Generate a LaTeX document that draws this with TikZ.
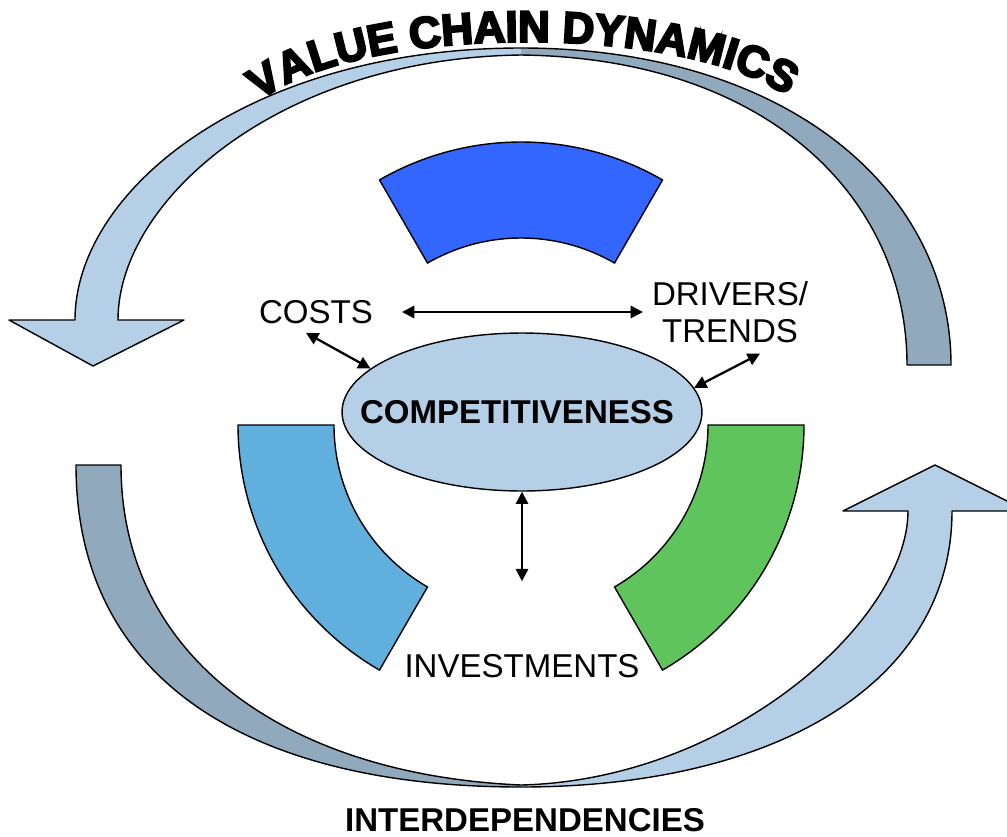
\documentclass[tikz,border=0pt]{standalone}
\usepackage{fontspec}
\setmainfont{Liberation Sans}
\newfontfamily\heavyfont[FakeBold=5]{Liberation Sans}
\usepackage{tikz}
\usetikzlibrary{arrows.meta}
\usetikzlibrary{shapes.geometric}
\usetikzlibrary{decorations.text}
\definecolor{paleblue}{HTML}{B4CFE6}
\definecolor{slateblue}{HTML}{91A9BD}
\definecolor{royal}{HTML}{3366FF}
\definecolor{skyblue}{HTML}{60AFDD}
\definecolor{leafgreen}{HTML}{60C45C}
\tikzset{%
    ribbon/.style={draw=black,line width=0.8pt,line join=round},
    sector/.style={draw=black,line width=0.8pt},
    lbl/.style={font=\fontsize{18.8}{21}\selectfont,inner sep=1pt,align=center},
    boldlbl/.style={lbl,font=\fontsize{18.8}{21}\selectfont\bfseries},
    link/.style={line width=1.3pt,{Triangle[length=7pt,width=7pt]}-{Triangle[length=7pt,width=7pt]}},
    hub/.style={ellipse,draw=black,line width=0.8pt,fill=paleblue,inner sep=0pt,
        minimum width=7.2cm,minimum height=3.16cm}
}
\newcommand\ringpart[3]{%
    \draw[sector,fill=#3] (521,425) ++(#1:283) arc[start angle=#1,end angle=#2,radius=283]
        -- ++(#2+180:96) arc[start angle=#2,end angle=#1,radius=187] -- cycle;}

\begin{document}
\begin{tikzpicture}[x=0.02cm,y=-0.02cm]
    \clip (0,0) rectangle (1007,836);

    \draw[ribbon,fill=paleblue] (521,48) .. controls (250,48) and (75,190) .. (75,320)
        -- (9,320) -- (93,366) -- (184,320) -- (118,320)
        .. controls (118,200) and (280,58) .. (521,55);
    \draw[ribbon,fill=slateblue] (521,48) .. controls (788,48) and (951,191) .. (951,365)
        -- (907,365) .. controls (907,200) and (770,58) .. (521,55);
    \draw[ribbon,fill=slateblue] (521,787) .. controls (250,787) and (76,680) .. (76,465)
        -- (121,465) .. controls (121,660) and (290,775) .. (521,785);
    \draw[ribbon,fill=paleblue] (521,787) .. controls (780,787) and (952,680) .. (952,511)
        -- (1027,511) -- (935,465) -- (843,511) -- (908,511)
        .. controls (908,620) and (730,780) .. (521,785);

    \path[decorate,decoration={text along path,text align=center,
        text={|\heavyfont\bfseries\fontsize{25}{25}\selectfont|VALUE CHAIN DYNAMICS}}]
        (244,116) .. controls (324,18) and (716,18) .. (804,110);

    \ringpart{-120}{-60}{royal}
    \ringpart{120}{180}{skyblue}
    \ringpart{0}{60}{leafgreen}

    \node[hub,label={[boldlbl,xshift=-0.1cm]center:COMPETITIVENESS}] (comp) at (522,412) {};
    \node[lbl] (costs) at (316,312) {COSTS};
    \node[lbl] (drivers) at (730,312) {DRIVERS/\\TRENDS};
    \node[lbl] (invest) at (522,666) {INVESTMENTS};
    \node[boldlbl] (interdep) at (525,820) {INTERDEPENDENCIES};

    \draw[link] ([xshift=0.54cm]costs.east) -- ([xshift=-0.14cm]drivers.west);
    \draw[link] ([shift={(-0.2cm,-0.14cm)}]costs.south) -- (comp.164);
    \draw[link] ([shift={(0.6cm,-0.18cm)}]drivers.south) -- (comp.8);
    \draw[link] (comp.south) -- ([yshift=1.42cm]invest.north);
\end{tikzpicture}
\end{document}
